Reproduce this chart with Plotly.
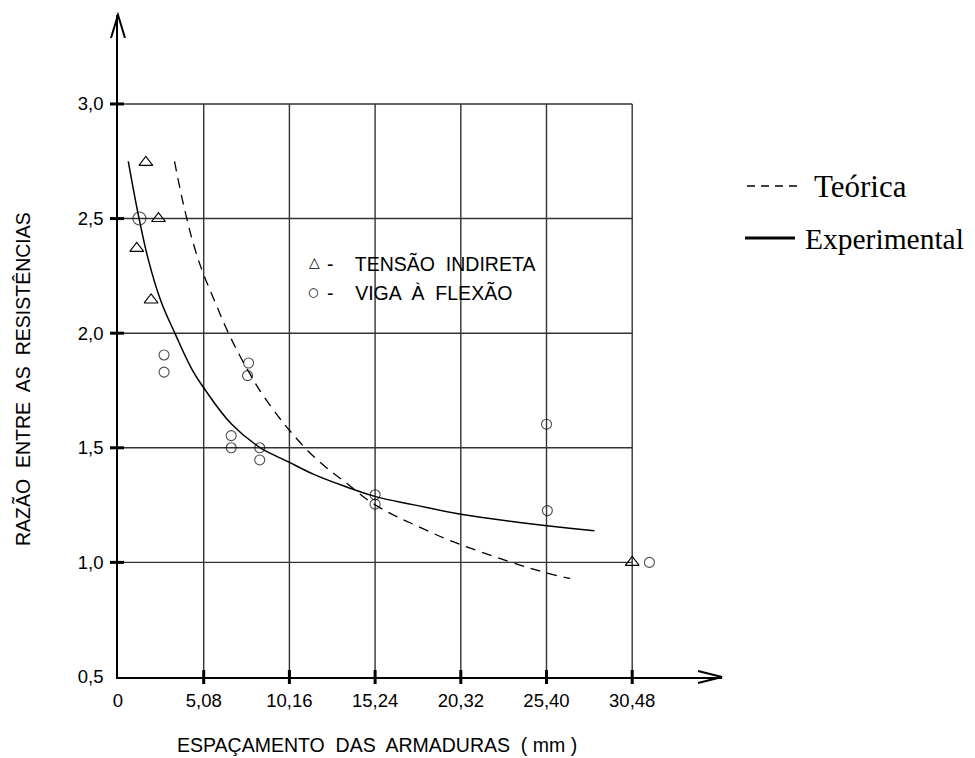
import plotly.graph_objects as go

# ---------------- data ----------------
tri_x = [1.65, 2.40, 1.11, 1.96, 30.48]
tri_y = [2.745, 2.50, 2.37, 2.145, 1.00]

circ_x = [1.27, 2.73, 2.73, 6.71, 6.71, 7.74, 7.68, 8.40, 8.40, 15.24, 15.24, 25.40, 25.45, 31.50]
circ_y = [2.50, 1.905, 1.83, 1.553, 1.50, 1.87, 1.815, 1.50, 1.447, 1.295, 1.254, 1.603, 1.226, 1.00]

exp_x = [0.61, 1.25, 1.80, 2.52, 3.37, 4.40, 5.08, 6.71, 8.44, 9.63, 10.12, 11.61, 13.59, 15.27, 17.55, 20.32, 25.43, 28.24]
exp_y = [2.75, 2.50, 2.32, 2.145, 2.00, 1.84, 1.762, 1.605, 1.50, 1.455, 1.438, 1.384, 1.328, 1.287, 1.251, 1.21, 1.16, 1.138]

teo_x = [3.35, 3.98, 4.58, 5.01, 5.76, 6.55, 7.35, 7.84, 8.54, 9.73, 10.12, 11.60, 13.59, 15.27, 18.14, 20.34, 25.43, 26.80]
teo_y = [2.75, 2.53, 2.363, 2.269, 2.135, 2.00, 1.884, 1.82, 1.735, 1.615, 1.58, 1.462, 1.343, 1.25, 1.145, 1.077, 0.953, 0.93]

x_ticks = [0, 5.08, 10.16, 15.24, 20.32, 25.40, 30.48]
x_ticklabels = ["0", "5,08", "10,16", "15,24", "20,32", "25,40", "30,48"]
y_ticks = [0.5, 1.0, 1.5, 2.0, 2.5, 3.0]
y_ticklabels = ["0,5", "1,0", "1,5", "2,0", "2,5", "3,0"]

x_title = "ESPAÇAMENTO  DAS  ARMADURAS  ( mm )"
y_title = "RAZÃO  ENTRE  AS  RESISTÊNCIAS"
legend_tri = "-    TENSÃO  INDIRETA"
legend_circ = "-    VIGA  À  FLEXÃO"
legend_teo = "Teórica"
legend_exp = "Experimental"

# ---------------- layout geometry (reference pixels, page body has an 8px margin) ----------------
OFF = 8
W, H = 975 - OFF, 758 - OFF
L, R, T, B = 118 - OFF, 722 - OFF, 15 - OFF, 677 - OFF
X_MAX = (R - L) / 16.87
Y_MIN = 0.5
Y_MAX = 3.0 + (104 - 15) / 229.3

def pxp(v):
    return (v - OFF - L) / (R - L)

def pyp(v):
    return (B - (v - OFF)) / (B - T)

SANS = "Liberation Sans, Arial, sans-serif"
SERIF = "Liberation Serif, Times New Roman, serif"

fig = go.Figure()

fig.add_trace(go.Scatter(x=exp_x, y=exp_y, mode="lines",
                         line=dict(color="black", width=1.5, shape="spline", smoothing=1.2),
                         showlegend=False, hoverinfo="skip"))
fig.add_trace(go.Scatter(x=teo_x, y=teo_y, mode="lines",
                         line=dict(color="black", width=1.3, dash="10px,7px", shape="spline", smoothing=1.2),
                         showlegend=False, hoverinfo="skip"))
circ_sizes = [13] + [10] * (len(circ_x) - 1)
fig.add_trace(go.Scatter(x=circ_x, y=circ_y, mode="markers",
                         marker=dict(symbol="circle-open", size=circ_sizes, color="black", line=dict(width=1.1)),
                         showlegend=False))
fig.add_trace(go.Scatter(x=tri_x, y=tri_y, mode="markers",
                         marker=dict(symbol="triangle-up-open", size=12, color="black", line=dict(width=1.1)),
                         showlegend=False))

shapes = []
GRID = "#333333"
# grid confined to the box
for xv in x_ticks[1:]:
    shapes.append(dict(type="line", xref="x", yref="y", x0=xv, x1=xv, y0=y_ticks[0], y1=y_ticks[-1],
                       line=dict(color=GRID, width=1.4), layer="below"))
for yv in y_ticks[1:]:
    shapes.append(dict(type="line", xref="x", yref="y", x0=0, x1=x_ticks[-1], y0=yv, y1=yv,
                       line=dict(color=GRID, width=1.4), layer="below"))
# thick ticks crossing the axes
for xv in x_ticks[1:]:
    shapes.append(dict(type="line", xref="x", yref="paper", ysizemode="pixel", yanchor=0,
                       x0=xv, x1=xv, y0=-7, y1=7, line=dict(color="black", width=3)))
for yv in y_ticks[1:]:
    shapes.append(dict(type="line", xref="paper", yref="y", xsizemode="pixel", xanchor=0,
                       x0=-8, x1=6, y0=yv, y1=yv, line=dict(color="black", width=3)))
# arrow heads (paper refs so that they are not clipped)
shapes.append(dict(type="path", xref="paper", yref="paper", xsizemode="pixel", ysizemode="pixel",
                   xanchor=1, yanchor=0, path="M-24,6 L0,0 L-24,-6",
                   line=dict(color="black", width=2)))
shapes.append(dict(type="path", xref="paper", yref="paper", xsizemode="pixel", ysizemode="pixel",
                   xanchor=0, yanchor=1, path="M-7,-23 L0,0 L7,-23",
                   line=dict(color="black", width=2)))
# right-hand legend samples
shapes.append(dict(type="line", xref="paper", yref="paper", x0=pxp(747), x1=pxp(801),
                   y0=pyp(186), y1=pyp(186), line=dict(color="black", width=1.5, dash="8px,6px")))
shapes.append(dict(type="line", xref="paper", yref="paper", x0=pxp(745), x1=pxp(795),
                   y0=pyp(238), y1=pyp(238), line=dict(color="black", width=3)))

annotations = [
    dict(text=x_title, xref="paper", yref="paper", x=pxp(377), y=pyp(745), showarrow=False,
         font=dict(family=SANS, size=19.5, color="black"), xanchor="center", yanchor="middle"),
    dict(text=y_title, xref="paper", yref="paper", x=pxp(22), y=pyp(379), showarrow=False, textangle=-90,
         font=dict(family=SANS, size=19.5, color="black"), xanchor="center", yanchor="middle"),
    dict(text="△", xref="paper", yref="paper", x=pxp(314), y=pyp(262), showarrow=False,
         font=dict(family="DejaVu Sans", size=14, color="black"), xanchor="center", yanchor="middle"),
    dict(text="○", xref="paper", yref="paper", x=pxp(313), y=pyp(292), showarrow=False,
         font=dict(family="DejaVu Sans", size=12, color="black"), xanchor="center", yanchor="middle"),
    dict(text=legend_tri, xref="paper", yref="paper", x=pxp(325), y=pyp(263), showarrow=False,
         font=dict(family=SANS, size=19.5, color="black"), xanchor="left", yanchor="middle"),
    dict(text=legend_circ, xref="paper", yref="paper", x=pxp(325), y=pyp(292), showarrow=False,
         font=dict(family=SANS, size=19.5, color="black"), xanchor="left", yanchor="middle"),
    dict(text=legend_teo, xref="paper", yref="paper", x=pxp(812), y=pyp(186), showarrow=False,
         font=dict(family=SERIF, size=31, color="black"), xanchor="left", yanchor="middle"),
    dict(text=legend_exp, xref="paper", yref="paper", x=pxp(803), y=pyp(239), showarrow=False,
         font=dict(family=SERIF, size=29.5, color="black"), xanchor="left", yanchor="middle"),
]

fig.update_layout(
    width=W, height=H,
    margin=dict(l=L, r=W - R, t=T, b=H - B, pad=0),
    paper_bgcolor="white", plot_bgcolor="white",
    shapes=shapes, annotations=annotations, showlegend=False,
    xaxis=dict(range=[0, X_MAX], tickvals=x_ticks, ticktext=x_ticklabels, showgrid=False, zeroline=False,
               showline=True, linecolor="black", linewidth=1.5, ticks="", ticklabelstandoff=6,
               tickfont=dict(family=SANS, size=18.5, color="black"), fixedrange=True),
    yaxis=dict(range=[Y_MIN, Y_MAX], tickvals=y_ticks, ticktext=y_ticklabels, showgrid=False, zeroline=False,
               showline=True, linecolor="black", linewidth=1.5, ticks="", ticklabelstandoff=9,
               tickfont=dict(family=SANS, size=18.5, color="black"), fixedrange=True),
)

fig.write_html("out.html")
